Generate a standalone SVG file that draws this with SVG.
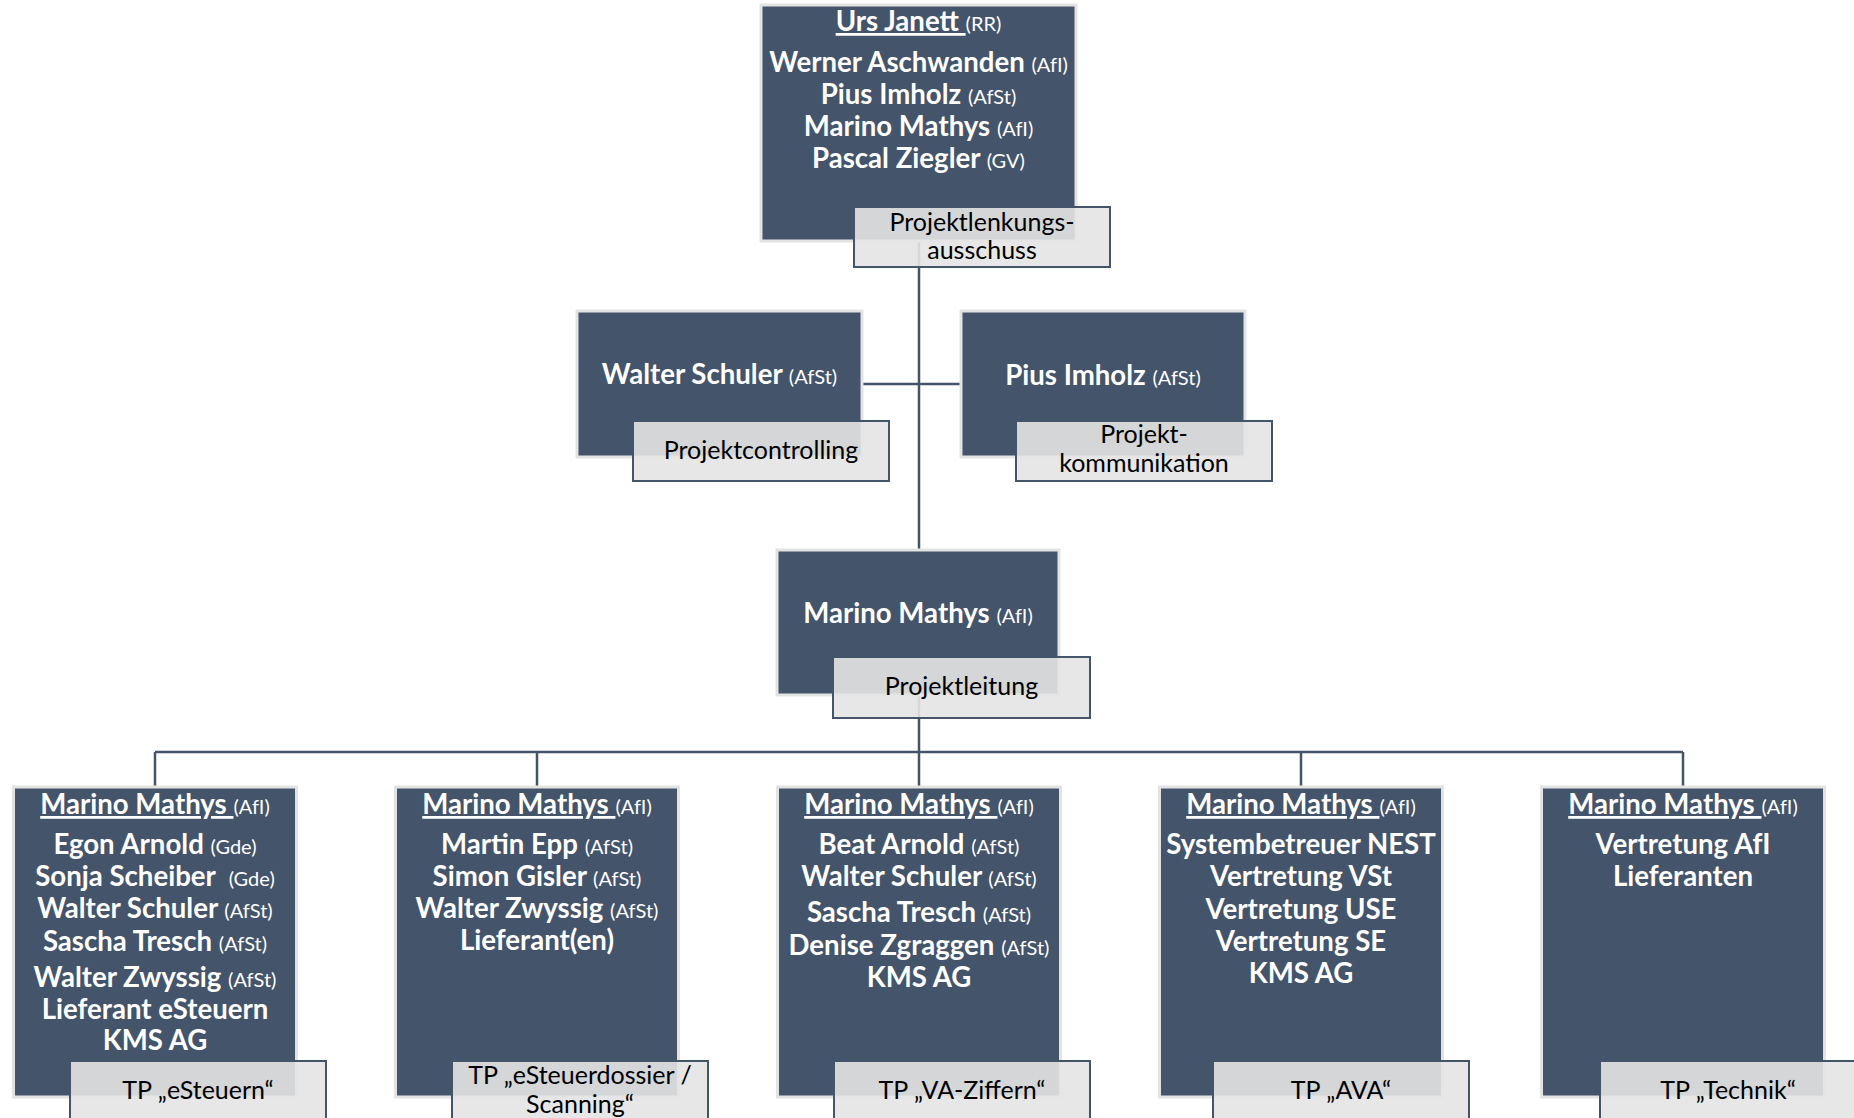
<svg xmlns="http://www.w3.org/2000/svg" width="1854" height="1118" viewBox="0 0 1854 1118">
<style>
.bg{fill:#ffffff}
.box{fill:#44546A;stroke:#E3E3E3;stroke-width:3}
.lab{fill:#E4E4E4;fill-opacity:0.9;stroke:#44546A;stroke-width:2}
.n{font-family:Lato,"Open Sans",sans-serif;font-weight:700;font-size:27.6px;fill:#ffffff;text-anchor:middle;white-space:pre}
.s{font-weight:400;font-size:20px}
.u{text-decoration:underline}
.l{font-family:Lato,"Open Sans",sans-serif;font-weight:400;font-size:25px;fill:#000000;text-anchor:middle}
.con{stroke:#44546A;stroke-width:2.5;fill:none}
</style>
<rect class="bg" x="0" y="0" width="1854" height="1118"/>
<g id="connectors">
<path class="con" d="M919 241 V550"/>
<path class="con" d="M862 384 H961"/>
<path class="con" d="M919 695 V752"/>
<path class="con" d="M155 752 H1683"/>
<path class="con" d="M155 752 V787 M537 752 V787 M919 752 V787 M1301 752 V787 M1683 752 V787"/>
</g>
<g id="lenkungsausschuss">
<rect class="box" x="761" y="5" width="315" height="236"/>
<rect class="lab" x="854" y="207" width="256" height="60"/>
<text class="n" x="918.5" y="31" xml:space="preserve"><tspan class="u">Urs Janett </tspan><tspan class="s">(RR)</tspan></text>
<text class="n" x="918.5" y="72">Werner Aschwanden <tspan class="s">(AfI)</tspan></text>
<text class="n" x="918.5" y="104">Pius Imholz <tspan class="s">(AfSt)</tspan></text>
<text class="n" x="918.5" y="136">Marino Mathys <tspan class="s">(AfI)</tspan></text>
<text class="n" x="918.5" y="168">Pascal Ziegler <tspan class="s">(GV)</tspan></text>
<text class="l" x="982" y="231">Projektlenkungs-</text>
<text class="l" x="982" y="259">ausschuss</text>
</g>
<g id="projektcontrolling">
<rect class="box" x="577" y="311" width="285" height="146"/>
<rect class="lab" x="633" y="421" width="256" height="60"/>
<text class="n" x="719.5" y="384">Walter Schuler <tspan class="s">(AfSt)</tspan></text>
<text class="l" x="761" y="459">Projektcontrolling</text>
</g>
<g id="projektkommunikation">
<rect class="box" x="961" y="311" width="284" height="146"/>
<rect class="lab" x="1016" y="421" width="256" height="60"/>
<text class="n" x="1103" y="385">Pius Imholz <tspan class="s">(AfSt)</tspan></text>
<text class="l" x="1144" y="443">Projekt-</text>
<text class="l" x="1144" y="472">kommunikation</text>
</g>
<g id="projektleitung">
<rect class="box" x="777" y="550" width="282" height="145"/>
<rect class="lab" x="833" y="657" width="257" height="61"/>
<text class="n" x="918" y="623">Marino Mathys <tspan class="s">(AfI)</tspan></text>
<text class="l" x="961.5" y="695">Projektleitung</text>
</g>
<g id="tp-esteuern">
<rect class="box" x="13.5" y="787" width="283" height="310"/>
<rect class="lab" x="70" y="1061" width="256" height="61"/>
<text class="n" x="155" y="814" xml:space="preserve"><tspan class="u">Marino Mathys </tspan><tspan class="s">(AfI)</tspan></text>
<text class="n" x="155" y="854">Egon Arnold <tspan class="s">(Gde)</tspan></text>
<text class="n" x="155" y="886" xml:space="preserve">Sonja Scheiber  <tspan class="s">(Gde)</tspan></text>
<text class="n" x="155" y="918">Walter Schuler <tspan class="s">(AfSt)</tspan></text>
<text class="n" x="155" y="951">Sascha Tresch <tspan class="s">(AfSt)</tspan></text>
<text class="n" x="155" y="987">Walter Zwyssig <tspan class="s">(AfSt)</tspan></text>
<text class="n" x="155" y="1019">Lieferant eSteuern</text>
<text class="n" x="155" y="1050">KMS AG</text>
<text class="l" x="198" y="1099">TP „eSteuern“</text>
</g>
<g id="tp-esteuerdossier">
<rect class="box" x="395.5" y="787" width="283" height="310"/>
<rect class="lab" x="452" y="1061" width="256" height="61"/>
<text class="n" x="537" y="814" xml:space="preserve"><tspan class="u">Marino Mathys </tspan><tspan class="s">(AfI)</tspan></text>
<text class="n" x="537" y="854">Martin Epp <tspan class="s">(AfSt)</tspan></text>
<text class="n" x="537" y="886">Simon Gisler <tspan class="s">(AfSt)</tspan></text>
<text class="n" x="537" y="918">Walter Zwyssig <tspan class="s">(AfSt)</tspan></text>
<text class="n" x="537" y="950">Lieferant(en)</text>
<text class="l" x="580" y="1084">TP „eSteuerdossier /</text>
<text class="l" x="580" y="1113">Scanning“</text>
</g>
<g id="tp-va-ziffern">
<rect class="box" x="777.5" y="787" width="283" height="310"/>
<rect class="lab" x="834" y="1061" width="256" height="61"/>
<text class="n" x="919" y="814" xml:space="preserve"><tspan class="u">Marino Mathys </tspan><tspan class="s">(AfI)</tspan></text>
<text class="n" x="919" y="854">Beat Arnold <tspan class="s">(AfSt)</tspan></text>
<text class="n" x="919" y="886">Walter Schuler <tspan class="s">(AfSt)</tspan></text>
<text class="n" x="919" y="922">Sascha Tresch <tspan class="s">(AfSt)</tspan></text>
<text class="n" x="919" y="955">Denise Zgraggen <tspan class="s">(AfSt)</tspan></text>
<text class="n" x="919" y="987">KMS AG</text>
<text class="l" x="962" y="1099">TP „VA-Ziffern“</text>
</g>
<g id="tp-ava">
<rect class="box" x="1159.5" y="787" width="283" height="310"/>
<rect class="lab" x="1213" y="1061" width="256" height="61"/>
<text class="n" x="1301" y="814" xml:space="preserve"><tspan class="u">Marino Mathys </tspan><tspan class="s">(AfI)</tspan></text>
<text class="n" x="1301" y="854">Systembetreuer NEST</text>
<text class="n" x="1301" y="886">Vertretung VSt</text>
<text class="n" x="1301" y="919">Vertretung USE</text>
<text class="n" x="1301" y="951">Vertretung SE</text>
<text class="n" x="1301" y="983">KMS AG</text>
<text class="l" x="1341" y="1099">TP „AVA“</text>
</g>
<g id="tp-technik">
<rect class="box" x="1541.5" y="787" width="283" height="310"/>
<rect class="lab" x="1600" y="1061" width="256" height="61"/>
<text class="n" x="1683" y="814" xml:space="preserve"><tspan class="u">Marino Mathys </tspan><tspan class="s">(AfI)</tspan></text>
<text class="n" x="1683" y="854">Vertretung AfI</text>
<text class="n" x="1683" y="886">Lieferanten</text>
<text class="l" x="1728" y="1099">TP „Technik“</text>
</g>
</svg>
